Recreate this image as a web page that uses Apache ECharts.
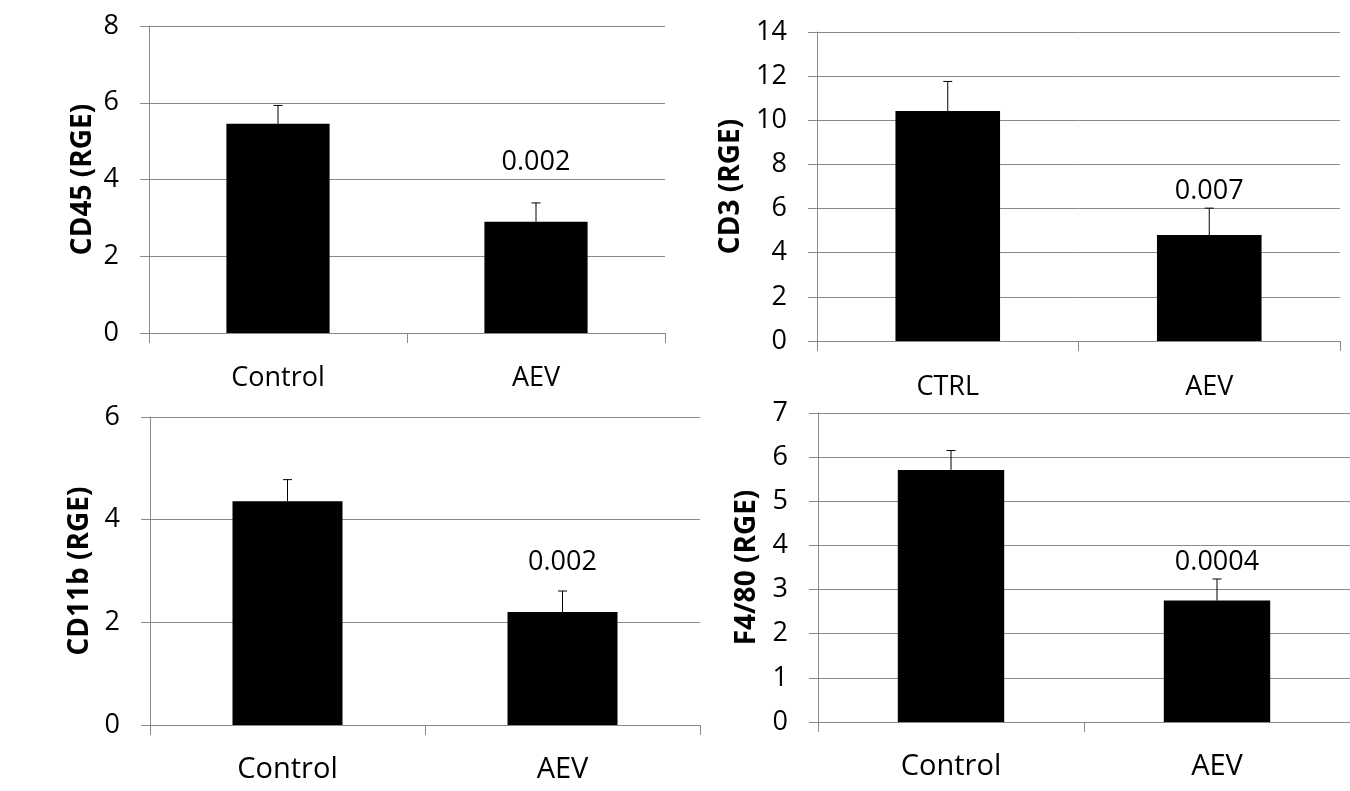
<!DOCTYPE html>
<html>
<head>
<meta charset="utf-8">
<script src="https://cdn.jsdelivr.net/npm/echarts@6/dist/echarts.min.js"></script>
<style>
    html, body { margin: 0; padding: 0; background: #fff; }
    #chart { width: 1350px; height: 791px; }
</style>
</head>
<body>
<div id="chart"></div>
<script>
    // one entry per panel: top-left, top-right, bottom-left, bottom-right
    const markers = ['CD45 (RGE)', 'CD3 (RGE)', 'CD11b (RGE)', 'F4/80 (RGE)'];
    const groups = [['Control', 'AEV'], ['CTRL', 'AEV'], ['Control', 'AEV'], ['Control', 'AEV']];
    const means = [[5.45, 2.90], [10.42, 4.80], [4.36, 2.20], [5.71, 2.75]];
    const errors = [[0.48, 0.49], [1.34, 1.22], [0.42, 0.41], [0.44, 0.49]];
    const pValues = ['0.002', '0.007', '0.002', '0.0004'];
    const pLabelAt = [4.46, 6.76, 3.17, 3.62];
    const yMax = [8, 14, 6, 7];
    const yStep = [2, 2, 2, 1];

    // layout of the four plot areas
    const grids = [
        {left: 149, top: 26, width: 516, height: 307},
        {left: 817, top: 32, width: 523, height: 309},
        {left: 150, top: 417, width: 550, height: 308},
        {left: 818, top: 413, width: 560, height: 309}
    ];
    const nameGaps = [52, 72, 56, 57];
    const catFont = [27, 27, 29, 29];
    const catMargin = [32, 33, 30, 30];

    const gray = '#8a8a8a';
    const font = '"Open Sans", sans-serif';

    const chart = echarts.init(document.getElementById('chart'));

    const xAxis = [], yAxis = [], series = [];
    markers.forEach((name, i) => {
        xAxis.push({
            type: 'category',
            gridIndex: i,
            data: groups[i],
            axisLine: {lineStyle: {color: gray, width: 1}},
            axisTick: {show: true, length: 10, lineStyle: {color: gray}},
            axisLabel: {color: '#000', fontFamily: font, fontSize: catFont[i], margin: catMargin[i]}
        });
        yAxis.push({
            type: 'value',
            gridIndex: i,
            min: 0,
            max: yMax[i],
            interval: yStep[i],
            name: name,
            nameLocation: 'middle',
            nameGap: nameGaps[i],
            nameTextStyle: {color: '#000', fontFamily: font, fontWeight: 'bold', fontSize: 28},
            axisLine: {show: true, lineStyle: {color: gray, width: 1}},
            axisTick: {show: true, length: 9, lineStyle: {color: gray}},
            splitLine: {show: true, lineStyle: {color: gray, width: 1}},
            axisLabel: {color: '#000', fontFamily: font, fontSize: 27, margin: 30}
        });
        series.push({
            type: 'bar',
            xAxisIndex: i,
            yAxisIndex: i,
            data: means[i],
            barCategoryGap: '60%',
            itemStyle: {color: '#000'},
            silent: true
        });
        // error bars, upward half only
        series.push({
            type: 'custom',
            xAxisIndex: i,
            yAxisIndex: i,
            data: means[i].map((m, k) => [k, m, errors[i][k]]),
            renderItem: (params, api) => {
                const k = api.value(0);
                const base = api.coord([k, api.value(1)]);
                const top = api.coord([k, api.value(1) + api.value(2)]);
                const st = {stroke: '#000', lineWidth: 1};
                return {
                    type: 'group',
                    children: [
                        {type: 'line', shape: {x1: base[0], y1: base[1], x2: top[0], y2: top[1]}, style: st},
                        {type: 'line', shape: {x1: top[0] - 4.5, y1: top[1], x2: top[0] + 4.5, y2: top[1]}, style: st}
                    ]
                };
            },
            z: 5
        });
        // p-value above the AEV bar
        series.push({
            type: 'custom',
            xAxisIndex: i,
            yAxisIndex: i,
            data: [[1, pLabelAt[i]]],
            renderItem: (params, api) => {
                const p = api.coord([api.value(0), api.value(1)]);
                return {
                    type: 'text',
                    x: p[0],
                    y: p[1],
                    style: {
                        text: pValues[i],
                        fill: '#000',
                        font: '27px ' + font,
                        align: 'center',
                        verticalAlign: 'middle'
                    }
                };
            },
            silent: true
        });
    });

    chart.setOption({
        animation: false,
        grid: grids,
        xAxis: xAxis,
        yAxis: yAxis,
        series: series
    });
</script>
</body>
</html>
